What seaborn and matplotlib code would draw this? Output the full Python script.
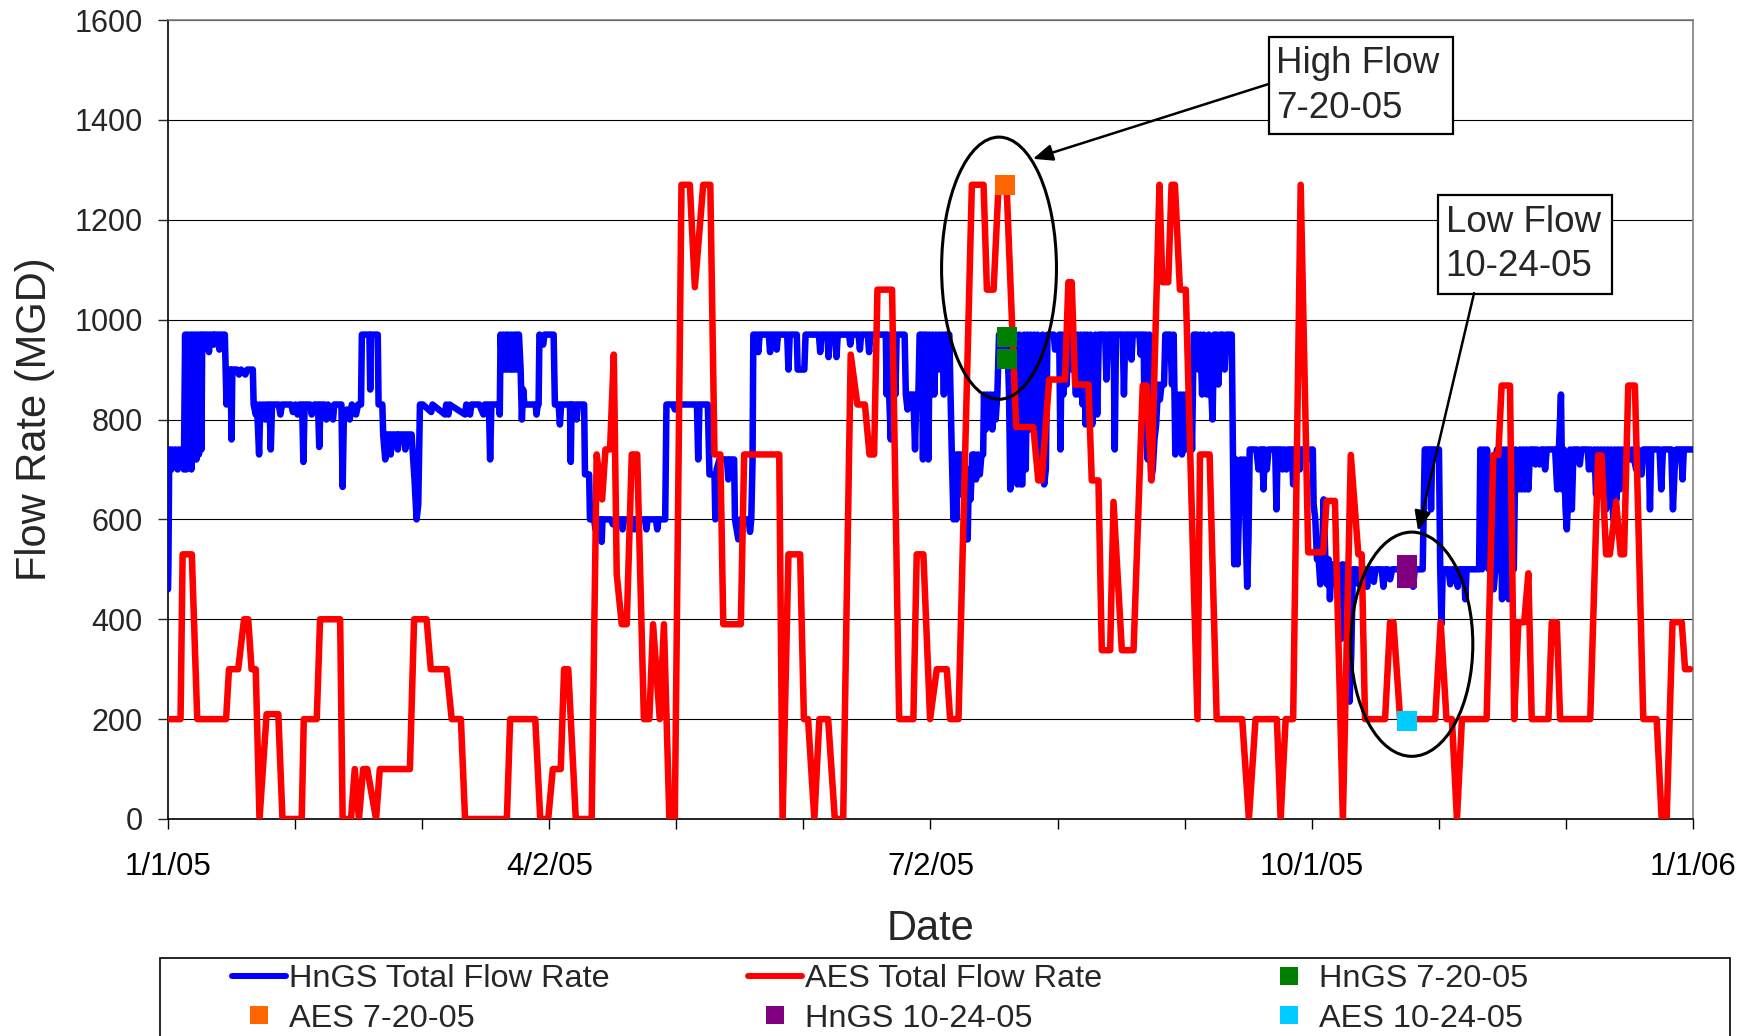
import numpy as np
import pandas as pd
import matplotlib
matplotlib.use("Agg")
import matplotlib.pyplot as plt
import seaborn as sns
from matplotlib.patches import Ellipse, Rectangle
from matplotlib.lines import Line2D

# x values are days since 1/1/05, flows in MGD
hngs_pts = [
    (0.0, 460), (0.1, 510), (0.3, 740), (0.8, 700), (1.0, 740), (1.5, 710), (1.8, 740), (2.3, 700), (2.6, 740),
    (3.0, 710), (3.4, 740), (3.8, 700),
    (4.1, 970), (4.4, 700), (4.7, 970), (5.0, 740), (5.3, 970), (5.6, 700), (5.9, 970), (6.2, 720), (6.5, 970),
    (6.8, 720), (7.1, 970), (7.4, 730), (7.7, 970), (8.0, 740), (8.2, 970),
    (9.5, 970), (9.8, 935), (10.1, 970), (10.8, 970), (11.0, 950), (11.2, 970), (12.0, 970), (12.3, 940),
    (12.6, 970), (13.6, 970), (14.0, 830), (14.2, 900), (15.0, 900), (15.2, 760), (15.4, 900), (16.5, 900),
    (17.0, 890), (17.5, 900), (18.5, 890), (19.0, 900), (20.3, 900),
    (20.5, 830), (21.0, 810), (21.3, 830), (21.8, 730), (22.1, 830), (22.6, 810), (22.9, 830), (23.3, 800),
    (23.6, 830), (24.3, 830), (24.6, 740), (24.9, 830), (26.5, 830), (26.9, 810), (27.3, 830), (29.5, 830),
    (29.9, 815), (30.5, 830), (31.0, 810), (31.4, 830), (32.1, 830), (32.4, 715), (32.7, 830), (34.0, 830),
    (34.4, 810), (35.0, 830), (35.9, 830), (36.2, 745), (36.5, 830), (37.5, 830), (37.9, 800), (38.3, 830),
    (39.5, 800), (39.8, 830), (41.5, 830), (41.8, 665), (42.1, 810), (42.8, 820), (43.5, 800), (44.0, 830),
    (45.0, 810), (45.5, 830), (46.2, 830),
    (46.4, 970), (48.2, 970), (48.4, 860), (48.6, 970), (50.2, 970), (50.4, 830), (51.3, 830), (51.5, 770),
    (52.0, 720), (52.3, 770), (53.0, 770), (53.3, 730), (53.6, 770), (54.8, 770), (55.0, 740), (55.3, 770),
    (56.5, 770), (56.8, 740), (57.1, 770), (58.3, 770), (59.0, 680), (59.5, 600), (59.9, 630), (60.3, 830),
    (61.0, 830), (63.0, 815), (63.3, 830), (66.3, 810), (66.6, 830), (67.1, 810), (67.4, 830), (71.1, 810),
    (71.4, 830), (72.3, 810), (72.6, 830), (74.5, 830), (75.5, 810), (75.8, 830), (76.8, 830), (77.1, 720),
    (77.4, 830), (79.2, 830), (79.4, 810),
    (79.6, 970), (80.0, 900), (80.3, 970), (80.6, 900), (81.0, 970), (81.3, 900), (81.6, 970), (82.0, 900),
    (82.3, 970), (82.6, 900), (83.0, 970), (83.3, 900), (83.6, 970), (84.0, 970), (84.4, 900), (84.7, 800),
    (85.0, 860), (85.3, 830), (88.0, 830), (88.2, 810), (88.5, 830), (88.7, 830),
    (88.9, 970), (89.8, 950), (90.1, 970), (92.3, 970), (92.6, 830), (93.5, 830), (93.8, 790), (94.1, 830),
    (96.2, 830), (96.4, 715), (96.6, 830), (97.5, 830), (97.8, 800), (98.1, 830), (99.6, 830), (99.8, 690),
    (100.8, 690),
    (101.0, 600), (102.0, 600), (102.3, 580), (102.6, 600), (103.6, 600), (103.8, 555), (104.0, 600),
    (106.0, 600), (106.5, 590), (107.0, 600), (108.5, 600), (108.8, 580), (109.1, 600), (111.3, 600),
    (111.6, 580), (111.9, 600), (114.2, 600), (114.5, 580), (114.8, 600), (116.8, 600), (117.1, 580),
    (117.4, 600), (119.0, 600),
    (119.3, 830), (121.0, 830), (121.3, 820), (121.6, 830), (126.6, 830), (126.9, 720), (127.2, 830),
    (129.2, 830), (129.6, 690), (130.8, 690), (131.0, 600), (131.3, 700), (132.0, 720), (133.8, 720),
    (134.1, 680), (134.4, 720), (135.5, 720), (135.7, 600), (136.5, 560), (137.0, 600), (139.0, 600),
    (139.3, 575), (139.6, 600), (139.9, 715), (140.1, 970),
    (141.0, 970), (141.3, 935), (141.6, 970), (143.8, 970), (144.1, 935), (144.4, 970), (145.4, 970),
    (145.7, 940), (146.0, 970), (148.2, 970), (148.5, 900), (148.8, 970), (150.5, 970), (150.7, 900),
    (152.3, 900), (152.6, 970), (155.8, 970), (156.1, 935), (156.4, 970), (157.8, 970), (158.1, 925),
    (158.4, 970), (159.7, 970), (160.0, 925), (160.3, 970), (163.0, 970), (163.3, 950), (163.6, 970),
    (165.3, 970), (165.6, 940), (165.9, 970), (167.5, 970), (167.8, 935), (168.1, 970), (171.8, 970),
    (172.0, 850), (172.3, 970), (172.6, 850), (173.0, 760), (173.3, 970), (173.8, 970), (174.1, 850),
    (174.4, 970), (176.3, 970),
    (176.6, 850), (177.0, 820), (177.3, 850), (178.4, 850), (178.8, 740), (179.1, 850), (179.6, 850),
    (179.9, 970), (180.4, 970), (180.7, 720), (181.0, 970), (181.3, 740), (181.6, 970), (182.0, 720),
    (182.3, 970), (182.7, 850), (183.0, 970), (183.4, 850), (183.8, 970), (184.3, 900), (184.6, 970),
    (185.0, 930), (185.3, 970), (185.7, 850), (186.0, 970), (187.0, 970),
    (187.3, 850), (187.6, 730), (188.0, 600), (188.3, 730), (188.7, 600), (189.0, 730), (189.4, 730),
    (189.8, 650), (190.1, 730), (190.6, 700), (191.0, 560), (191.4, 560), (191.7, 700), (192.1, 640),
    (192.5, 730), (193.0, 730), (193.4, 680), (193.8, 730), (194.3, 690), (194.7, 730), (195.1, 730),
    (195.3, 850), (195.7, 780), (196.1, 850), (196.5, 790), (196.9, 850), (197.3, 780), (197.7, 850),
    (198.1, 800), (198.5, 850), (198.9, 970), (199.5, 970), (200.0, 930), (200.5, 970), (201.0, 930),
    (201.3, 850), (201.6, 660), (202.0, 970), (202.5, 700), (202.9, 970), (203.3, 670), (203.7, 970),
    (204.1, 670), (204.5, 670), (204.9, 970), (205.3, 700), (205.7, 970), (206.1, 780), (206.5, 970),
    (206.9, 850), (207.3, 970), (207.7, 780), (208.1, 970), (208.5, 700), (208.9, 750), (209.3, 970),
    (209.7, 670), (210.1, 700), (210.5, 970), (212.0, 970), (212.3, 940), (213.3, 970), (213.6, 740),
    (213.9, 970),
    (214.3, 850), (214.7, 970), (215.1, 870), (215.5, 970), (216.0, 970), (216.4, 900), (216.8, 970),
    (217.3, 850), (217.7, 970), (218.1, 850), (218.5, 970), (218.9, 830), (219.3, 970), (219.6, 790),
    (220.0, 970), (220.4, 790), (220.8, 970), (221.2, 790), (221.6, 880), (222.0, 970), (222.4, 810),
    (222.8, 970), (224.3, 970), (224.6, 880), (225.0, 970), (226.3, 970), (226.6, 740), (226.9, 970),
    (228.5, 970), (228.8, 850), (229.1, 970), (230.3, 970), (230.6, 920), (230.9, 970), (232.5, 970),
    (232.8, 930), (233.1, 970), (233.5, 970),
    (233.8, 760), (234.1, 970), (234.5, 720), (234.9, 970), (235.3, 680), (235.7, 700), (236.1, 760),
    (236.5, 790), (237.0, 870), (237.4, 840), (237.8, 870), (238.4, 870), (238.7, 970), (239.9, 970),
    (240.3, 870), (240.7, 970), (241.1, 730), (241.5, 850), (241.9, 740), (242.3, 850), (242.7, 730),
    (243.1, 850), (243.5, 740), (243.9, 850), (244.3, 740), (244.7, 850), (245.1, 740), (245.5, 970),
    (246.3, 970), (246.7, 900), (247.1, 970), (247.5, 850), (247.9, 970), (248.7, 850), (249.1, 970),
    (250.0, 800), (250.4, 970), (251.0, 970), (251.4, 870), (251.8, 970), (252.5, 970), (252.9, 900),
    (253.3, 970), (254.6, 970),
    (254.9, 720), (255.2, 510), (255.6, 720), (256.0, 510), (256.4, 640), (256.8, 720), (257.2, 640),
    (257.6, 720), (258.0, 560), (258.3, 465), (258.6, 560), (258.9, 740), (260.5, 740), (261.0, 700),
    (261.4, 740), (261.9, 740), (262.2, 660), (262.5, 740), (263.0, 700), (263.4, 740), (265.0, 740),
    (265.3, 620), (265.6, 740), (266.5, 740), (266.8, 700), (267.2, 740), (267.7, 700), (268.0, 740),
    (269.0, 740), (269.3, 670), (269.6, 740), (270.6, 740), (270.9, 700), (271.2, 740), (272.5, 740),
    (273.0, 720), (273.5, 740), (274.0, 740),
    (274.2, 630), (274.6, 600), (275.0, 520), (275.4, 520), (275.8, 470), (276.2, 520), (276.6, 640),
    (277.0, 520), (277.4, 470), (277.8, 520), (278.1, 440), (278.5, 510), (279.0, 510), (279.4, 470),
    (279.8, 510), (280.2, 470), (280.7, 360), (281.1, 510), (281.5, 470), (282.0, 510), (282.4, 470),
    (282.8, 235), (283.2, 330), (283.6, 500),
    (284.5, 500), (285.0, 470), (285.4, 500), (286.5, 500), (287.0, 465), (287.4, 500), (288.2, 500),
    (288.6, 475), (289.0, 500), (290.5, 500), (290.9, 465), (291.3, 500), (292.0, 500), (292.5, 480),
    (293.0, 500), (295.0, 500), (297.5, 500), (298.0, 465), (298.4, 500), (300.3, 500), (300.8, 740),
    (302.0, 740), (302.3, 620), (302.6, 740), (304.2, 740), (304.5, 500), (304.8, 390), (305.1, 500),
    (306.5, 500), (306.9, 470), (307.3, 500), (308.3, 500), (308.7, 465), (309.1, 500), (310.2, 500),
    (310.5, 440), (310.8, 500), (313.8, 500),
    (314.1, 740), (314.5, 500), (314.9, 740), (315.3, 600), (315.7, 740), (316.1, 500), (316.5, 620),
    (316.9, 500), (317.3, 460), (317.7, 500), (318.1, 740), (318.5, 500), (318.9, 740), (319.3, 440),
    (319.7, 740), (320.1, 460), (320.5, 740), (320.9, 440), (321.3, 600), (321.7, 740), (322.1, 500),
    (322.5, 740), (323.2, 660), (323.6, 740), (324.0, 660), (324.4, 740), (324.8, 660), (325.2, 740),
    (325.6, 660), (326.0, 740), (327.0, 740), (327.3, 710), (327.7, 740), (328.3, 710), (328.7, 740),
    (329.3, 740), (329.6, 700), (330.0, 740), (332.0, 740), (332.5, 660), (332.9, 740), (333.4, 850),
    (333.7, 660), (334.1, 740), (334.5, 620), (334.8, 580), (335.2, 660), (335.6, 740), (336.0, 620),
    (336.4, 740), (337.5, 740), (337.9, 710), (338.3, 740), (339.8, 740), (340.1, 700), (340.5, 740),
    (341.0, 700), (341.4, 740), (341.8, 650), (342.2, 740), (342.6, 700), (343.0, 740), (343.4, 650),
    (343.8, 740), (344.2, 620), (344.6, 740), (345.0, 640), (345.4, 740), (345.9, 600), (346.3, 740),
    (346.7, 640), (347.1, 740), (347.5, 660), (347.9, 740), (348.3, 700), (348.7, 740), (350.0, 720),
    (350.4, 740), (351.4, 700), (351.8, 740), (352.7, 690), (353.1, 740), (354.4, 740), (354.7, 620),
    (355.0, 740), (357.0, 740), (357.4, 660), (357.8, 740), (359.8, 740), (360.2, 620), (360.6, 700),
    (361.0, 740), (362.2, 740), (362.5, 680), (362.8, 740), (365.0, 740),
]

aes_pts = [
    (0, 200), (3.0, 200), (3.5, 530), (5.7, 530), (7.0, 200), (13.9, 200), (14.6, 300), (16.8, 300),
    (18.2, 400), (19.2, 400), (20.0, 300), (21.0, 300), (21.9, 0), (23.6, 210), (26.4, 210), (27.4, 0),
    (32.0, 0), (32.5, 200), (35.6, 200), (36.4, 400), (41.2, 400), (41.8, 0), (43.8, 0), (44.7, 100),
    (45.7, 0), (46.7, 100), (47.7, 100), (49.8, 0), (50.7, 100), (57.9, 100), (58.9, 400), (61.9, 400),
    (62.9, 300), (66.7, 300), (67.9, 200), (70.1, 200), (71.1, 0), (81.1, 0), (81.9, 200), (87.9, 200),
    (89.1, 0), (91.0, 0), (92.1, 100), (94.0, 100), (94.8, 300), (95.8, 300), (97.6, 0), (101.4, 0),
    (102.6, 730), (103.9, 640), (104.7, 740), (105.8, 740), (106.7, 930), (107.4, 490), (108.6, 390),
    (109.8, 390), (111.0, 730), (112.3, 730), (113.9, 200), (115.2, 200), (116.1, 390), (117.7, 200),
    (118.7, 390), (120.0, 0), (121.3, 0), (122.9, 1270), (124.9, 1270), (126.1, 1065), (128.1, 1270),
    (129.8, 1270), (130.8, 730), (132.2, 730), (132.9, 390), (137.1, 390), (137.9, 730), (146.3, 730),
    (147.1, 0), (148.5, 530), (151.3, 530), (152.2, 200), (153.2, 200), (154.7, 0), (155.9, 200),
    (158.0, 200), (159.6, 0), (161.6, 0), (163.4, 930), (165.0, 830), (166.8, 830), (167.9, 730),
    (169.0, 730), (169.8, 1060), (173.3, 1060), (175.0, 200), (178.4, 200), (179.2, 530), (180.8, 530),
    (182.4, 200), (184.0, 300), (186.4, 300), (187.2, 200), (189.2, 200), (192.4, 1270), (195.2, 1270),
    (196.0, 1060), (197.6, 1060), (198.8, 1270), (200.7, 1270), (203.0, 785), (207.1, 785), (208.3, 678),
    (209.1, 678), (210.9, 880), (214.7, 880), (215.5, 1075), (216.3, 1075), (217.1, 870), (220.3, 870),
    (221.1, 678), (222.7, 678), (223.5, 338), (225.5, 338), (226.3, 635), (228.3, 338), (231.1, 338),
    (233.3, 868), (234.2, 868), (235.4, 678), (237.3, 1270), (238.0, 1075), (239.4, 1075), (240.2, 1270),
    (241.0, 1270), (242.2, 1060), (243.6, 1060), (246.4, 200), (247.0, 730), (249.3, 730), (251.0, 200),
    (257.1, 200), (258.7, 0), (260.3, 200), (265.4, 200), (266.3, 0), (267.5, 200), (269.3, 200),
    (271.1, 1270), (272.9, 534), (276.5, 534), (277.3, 637), (279.3, 637), (281.2, 0), (283.1, 729),
    (284.9, 530), (285.7, 530), (286.5, 200), (291.3, 200), (292.5, 394), (293.3, 394), (294.9, 200),
    (303.3, 200), (304.6, 394), (306.0, 200), (307.3, 200), (308.5, 0), (309.7, 200), (315.6, 200),
    (317.2, 729), (318.4, 729), (319.2, 868), (321.2, 868), (322.2, 200), (323.2, 394), (324.6, 394),
    (325.6, 492), (326.4, 200), (330.4, 200), (331.2, 394), (332.4, 394), (333.2, 200), (340.4, 200),
    (342.3, 728), (343.1, 728), (344.2, 530), (345.1, 530), (346.6, 636), (347.7, 530), (348.5, 530),
    (349.5, 868), (351.1, 868), (353.1, 200), (356.3, 200), (357.5, 0), (358.7, 0), (360.1, 394),
    (362.3, 394), (363.1, 300), (364.3, 300),
]

# single-day samples
hngs_0720_day = [200.7, 200.7]
hngs_0720_flow = [965, 922]
aes_0720_day = [200.3]
aes_0720_flow = [1270]
hngs_1024_day = [296.6, 296.6]
hngs_1024_flow = [508, 483]
aes_1024_day = [296.6]
aes_1024_flow = [196]

tick_days = [0, 91.25, 182.5, 273.75, 365]
tick_labels = ['1/1/05', '4/2/05', '7/2/05', '10/1/05', '1/1/06']

hngs = pd.DataFrame(hngs_pts, columns=['day', 'flow'])
aes = pd.DataFrame(aes_pts, columns=['day', 'flow'])

sns.set_style("white")
plt.rcParams['font.family'] = ['Liberation Sans', 'DejaVu Sans']

W, H = 1756, 1036
fig = plt.figure(figsize=(W / 100, H / 100), dpi=100)
ax = fig.add_axes([168 / W, 1 - 819 / H, 1525 / W, 799 / H])

lw = 4.7
sns.lineplot(data=hngs, x='day', y='flow', color='#0000FF', linewidth=lw,
             estimator=None, sort=False, ax=ax, zorder=3)
sns.lineplot(data=aes, x='day', y='flow', color='#FF0000', linewidth=lw,
             estimator=None, sort=False, ax=ax, zorder=4)

msz = 14.4 ** 2
sns.scatterplot(x=hngs_0720_day, y=hngs_0720_flow, marker='s', s=msz, color='#008000', linewidth=0, ax=ax, zorder=5)
sns.scatterplot(x=aes_0720_day, y=aes_0720_flow, marker='s', s=msz, color='#FF6600', linewidth=0, ax=ax, zorder=5)
sns.scatterplot(x=hngs_1024_day, y=hngs_1024_flow, marker='s', s=msz, color='#800080', linewidth=0, ax=ax, zorder=5)
sns.scatterplot(x=aes_1024_day, y=aes_1024_flow, marker='s', s=msz, color='#00CCFF', linewidth=0, ax=ax, zorder=5)

ax.set_xlim(0, 365)
ax.set_ylim(0, 1600)
ax.set_xticks(tick_days)
ax.set_xticklabels(tick_labels)
ax.set_xticks(np.linspace(0, 365, 13), minor=True)
ax.set_yticks(np.arange(0, 1601, 200))
ax.tick_params(axis='x', which='both', direction='out', length=7.5, width=1, pad=16,
               labelsize=22.5, bottom=True, colors='black')
ax.tick_params(axis='y', direction='out', length=7, width=1, pad=11, labelsize=22, left=True)
ax.yaxis.grid(True, color='black', linewidth=0.8)
ax.xaxis.grid(False)
ax.set_axisbelow(True)
for s in ['left', 'bottom']:
    ax.spines[s].set_color('black')
    ax.spines[s].set_linewidth(1.2)
for s in ['top', 'right']:
    ax.spines[s].set_color('#808080')
    ax.spines[s].set_linewidth(1.2)

ax.set_xlabel('Date', fontsize=30, labelpad=20)
ax.set_ylabel('Flow Rate (MGD)', fontsize=30, labelpad=14)

# circles around the two sample days
ax.add_patch(Ellipse((198.9, 1103), 27.5, 525, fill=False, edgecolor='black', linewidth=2.2, zorder=6))
ax.add_patch(Ellipse((297.7, 350), 29.2, 449, fill=False, edgecolor='black', linewidth=2.2, zorder=6))

# callout boxes
ax.add_patch(Rectangle((263.5, 1372), 44.1, 194, facecolor='white', edgecolor='black', linewidth=1.6, zorder=7))
ax.text(265.2, 1494, 'High Flow', fontsize=26.5, va='baseline', ha='left', zorder=8)
ax.text(265.2, 1404, '7-20-05', fontsize=26.5, va='baseline', ha='left', zorder=8)
ax.add_patch(Rectangle((304.0, 1051), 41.6, 199, facecolor='white', edgecolor='black', linewidth=1.6, zorder=7))
ax.text(305.8, 1175, 'Low Flow', fontsize=26.5, va='baseline', ha='left', zorder=8)
ax.text(305.8, 1087, '10-24-05', fontsize=26.5, va='baseline', ha='left', zorder=8)

arrow = dict(arrowstyle='-|>,head_length=0.6,head_width=0.25', color='black', lw=1.8,
             mutation_scale=20, shrinkA=0, shrinkB=0)
ax.annotate('', xy=(207.0, 1322), xytext=(263.5, 1472), arrowprops=arrow, zorder=8)
ax.annotate('', xy=(299.2, 577), xytext=(312.6, 1053), arrowprops=arrow, zorder=8)

# legend: three columns, frame drawn separately so it runs off the bottom
line_kw = dict(linewidth=4.3)
mk_kw = dict(linestyle='none', marker='s', markersize=13, markeredgewidth=0)
cols = [
    ([Line2D([], [], color='#0000FF', **line_kw), Line2D([], [], color='#FF6600', **mk_kw)],
     ['HnGS Total Flow Rate', 'AES 7-20-05'], 232),
    ([Line2D([], [], color='#FF0000', **line_kw), Line2D([], [], color='#800080', **mk_kw)],
     ['AES Total Flow Rate', 'HnGS 10-24-05'], 748),
    ([Line2D([], [], color='#008000', **mk_kw), Line2D([], [], color='#00CCFF', **mk_kw)],
     ['HnGS 7-20-05', 'AES 10-24-05'], 1262),
]
for handles, labels, x0 in cols:
    fig.legend(handles, labels, loc='upper left', bbox_to_anchor=(x0 / W, 1 - 964 / H),
               frameon=False, fontsize=23.4, borderpad=0, borderaxespad=0,
               handlelength=1.66, handletextpad=0.09, labelspacing=0.3)
fig.add_artist(Rectangle((160 / W, -0.05), (1730 - 160) / W, (1 - 958 / H) + 0.05,
                         transform=fig.transFigure, fill=False, edgecolor='black', linewidth=1.2))

fig.savefig('out.png', dpi=100)
